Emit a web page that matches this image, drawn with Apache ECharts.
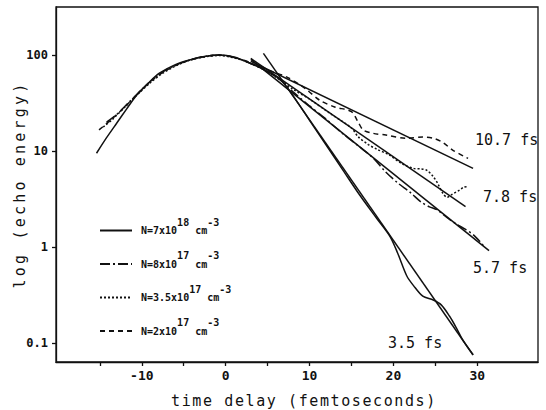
<!DOCTYPE html>
<html>
<head>
<meta charset="utf-8">
<script src="https://cdn.jsdelivr.net/npm/echarts@6/dist/echarts.min.js"></script>
<style>
  html, body { margin: 0; padding: 0; background: #fff; }
  #chart { width: 546px; height: 410px; }
</style>
</head>
<body>
<div id="chart"></div>
<script>
// Axis ticks and labels
const xTickValues = [-15, -10, -5, 0, 5, 10, 15, 20, 25, 30];
const xLabelValues = [-10, 0, 10, 20, 30];
const yTickValues = [0.1, 1, 10, 100];

// Echo energy vs. time delay (fs), one pair of arrays per carrier density
const tN7e18 = [-15.4, -14.2, -13.0, -11.8, -10.6, -9.2, -7.9, -6.0, -4.3, -2.5, -0.7, 1.0, 2.5, 4.5, 6.5, 8.0, 10.0, 12.0, 14.0, 16.0, 18.0, 19.6, 20.5, 21.6, 22.4, 23.5, 24.75, 25.7, 26.7, 27.5, 28.3, 29.5];
const eN7e18 = [9.5, 13.8, 19.5, 27.5, 38.4, 51.3, 64.6, 79.4, 88.7, 96.6, 100, 95.5, 85.1, 70.8, 55.6, 38.0, 20.9, 11.5, 6.31, 3.47, 2.0, 1.29, 0.871, 0.501, 0.398, 0.309, 0.282, 0.251, 0.191, 0.145, 0.107, 0.0759];

const tN8e17 = [-14.2, -13.0, -11.5, -10.0, -8.5, -7.0, -5.5, -4.0, -2.5, -0.7, 1.0, 2.5, 4.5, 6.5, 8.0, 10.0, 12.0, 14.0, 16.0, 17.5, 19.0, 20.5, 22.0, 23.3, 24.3, 25.2, 26.5, 27.5, 28.5, 29.5, 30.3, 30.8];
const eN8e17 = [20.0, 24.0, 32.4, 43.7, 57.5, 70.8, 81.3, 90.2, 96.6, 100, 94.4, 85.1, 70.8, 55.0, 41.7, 29.5, 21.4, 15.1, 11.0, 8.61, 6.17, 4.68, 3.72, 2.95, 2.63, 2.45, 2.0, 1.74, 1.55, 1.35, 1.15, 1.02];

const tN35e17 = [-14.6, -13.5, -12.0, -10.5, -9.0, -7.5, -6.0, -4.3, -2.5, -0.7, 1.0, 2.5, 4.5, 6.5, 8.0, 10.0, 12.5, 15.0, 15.8, 17.0, 18.0, 19.5, 21.0, 22.4, 23.3, 24.0, 24.7, 25.3, 25.9, 26.4, 27.0, 27.9, 28.4, 28.9];
const eN35e17 = [17.8, 21.4, 28.8, 38.9, 51.3, 64.6, 76.7, 88.1, 95.5, 98.9, 93.3, 85.1, 70.8, 55.0, 44.2, 34.7, 24.5, 17.4, 14.1, 11.7, 10.5, 9.12, 7.41, 6.61, 6.53, 6.31, 5.50, 4.57, 3.63, 3.31, 3.55, 3.94, 4.22, 4.27];

const tN2e17 = [-15.1, -14.0, -12.5, -11.0, -9.5, -8.0, -6.0, -4.3, -2.5, -0.7, 1.0, 2.5, 4.5, 7.3, 9.5, 11.2, 13.0, 15.0, 15.8, 16.4, 17.6, 19.1, 21.6, 23.5, 24.75, 25.9, 27.1, 28.9];
const eN2e17 = [16.6, 20.0, 26.3, 35.5, 47.9, 61.7, 77.6, 88.1, 96.6, 100, 94.4, 86.1, 72.4, 58.9, 44.7, 33.9, 28.8, 25.7, 20.0, 16.6, 15.3, 14.7, 13.6, 14.0, 13.6, 12.3, 10.2, 8.4];

// Exponential decay fits: decay time (fs), start/end delay, start/end energy
const fitTau = [10.7, 7.8, 5.7, 3.5];
const fitStartT = [3.0, 3.0, 3.0, 4.5];
const fitEndT = [29.5, 28.6, 31.4, 29.5];
const fitStartE = [86, 92, 90, 104];
const fitEndE = [6.6, 2.64, 0.92, 0.0755];

const FONT = "'DejaVu Sans Mono', 'Liberation Mono', monospace";
const INK = '#111';

const pairs = (ts, es) => ts.map((t, i) => [t, es[i]]);

const measured = [
  { name: 'N=7x10^18 cm^-3', t: tN7e18, e: eN7e18, dash: 'solid', rich: '{b|N=7x10}{s|18}{b| cm}{s|-3}' },
  { name: 'N=8x10^17 cm^-3', t: tN8e17, e: eN8e17, dash: [10, 3, 2, 3], rich: '{b|N=8x10}{s|17}{b| cm}{s|-3}' },
  { name: 'N=3.5x10^17 cm^-3', t: tN35e17, e: eN35e17, dash: [2, 2], rich: '{b|N=3.5x10}{s|17}{b| cm}{s|-3}' },
  { name: 'N=2x10^17 cm^-3', t: tN2e17, e: eN2e17, dash: [5, 4], rich: '{b|N=2x10}{s|17}{b| cm}{s|-3}' }
];

const series = measured.map(m => ({
  name: m.name,
  type: 'line',
  data: pairs(m.t, m.e),
  showSymbol: false,
  symbol: 'none',
  smooth: 0.3,
  lineStyle: { color: INK, width: 1.5, type: m.dash },
  itemStyle: { color: INK },
  z: 3
}));

fitTau.forEach((tau, i) => {
  series.push({
    name: 'fit ' + tau,
    type: 'line',
    data: [[fitStartT[i], fitStartE[i]], [fitEndT[i], fitEndE[i]]],
    showSymbol: false,
    symbol: 'none',
    lineStyle: { color: INK, width: 1.5, type: 'solid' },
    z: 2
  });
});

// Decay-time annotations beside the fit lines
const fitLabelPos = [[475, 140], [483, 197], [473, 268], [388, 343]];
const graphic = fitTau.map((tau, i) => ({
  type: 'text',
  x: fitLabelPos[i][0],
  y: fitLabelPos[i][1],
  style: {
    text: tau.toFixed(1) + ' fs',
    font: '15px ' + FONT,
    fill: INK,
    verticalAlign: 'middle',
    align: 'left'
  }
}));

const richMap = {};
measured.forEach(m => { richMap[m.name] = m.rich; });

const chart = echarts.init(document.getElementById('chart'), null, { renderer: 'svg' });
chart.setOption({
  animation: false,
  backgroundColor: '#fff',
  grid: {
    left: 56, right: 8, top: 7, bottom: 48,
    containLabel: false,
    outerBoundsMode: 'none',
    show: true, borderColor: INK, borderWidth: 1.3, backgroundColor: 'transparent'
  },
  legend: {
    data: measured.map(m => m.name),
    orient: 'vertical',
    left: 99,
    top: 217,
    padding: 0,
    itemWidth: 32,
    itemHeight: 10,
    itemGap: 15,
    selectedMode: false,
    itemStyle: { opacity: 0 },
    formatter: name => richMap[name],
    textStyle: {
      fontFamily: FONT,
      fontWeight: 'bold',
      fontSize: 10,
      color: INK,
      padding: [0, 0, 0, 4],
      rich: {
        b: { fontFamily: FONT, fontWeight: 'bold', fontSize: 10, color: INK, lineHeight: 27, verticalAlign: 'middle' },
        s: { fontFamily: FONT, fontWeight: 'bold', fontSize: 10, color: INK, verticalAlign: 'top' }
      }
    }
  },
  xAxis: {
    type: 'value',
    min: -20.23,
    max: 37.24,
    name: 'time delay (femtoseconds)',
    nameLocation: 'middle',
    nameGap: 31,
    nameMoveOverlap: false,
    nameTextStyle: { fontFamily: FONT, fontSize: 15, color: INK, padding: [0, 0, 0, 14] },
    axisLine: { show: true, onZero: false, lineStyle: { color: INK, width: 1.3 } },
    axisTick: { show: true, inside: false, length: 4, customValues: xTickValues, lineStyle: { color: INK, width: 1.3 } },
    axisLabel: { customValues: xLabelValues, fontFamily: FONT, fontWeight: 'bold', fontSize: 13, color: INK, margin: 7 },
    splitLine: { show: false }
  },
  yAxis: {
    type: 'log',
    min: 0.06387,
    max: 315.9,
    name: 'log (echo energy)',
    nameLocation: 'middle',
    nameRotate: 90,
    nameGap: 29,
    nameMoveOverlap: false,
    nameTextStyle: { fontFamily: FONT, fontSize: 15, color: INK },
    axisLine: { show: true, onZero: false, lineStyle: { color: INK, width: 1.3 } },
    axisTick: { show: true, inside: false, length: 4, customValues: yTickValues, lineStyle: { color: INK, width: 1.3 } },
    axisLabel: { customValues: yTickValues, fontFamily: FONT, fontWeight: 'bold', fontSize: 12, color: INK, margin: 8 },
    minorTick: { show: false },
    splitLine: { show: false }
  },
  graphic: graphic,
  series: series
});

// Wider tracking for the axis titles
const tracking = { 'time delay (femtoseconds)': 1.6, 'log (echo energy)': 3.2 };
function applyTracking() {
  document.querySelectorAll('#chart text').forEach(el => {
    const s = tracking[el.textContent];
    if (s) el.style.letterSpacing = s + 'px';
  });
}
applyTracking();
chart.on('finished', applyTracking);
</script>
</body>
</html>
